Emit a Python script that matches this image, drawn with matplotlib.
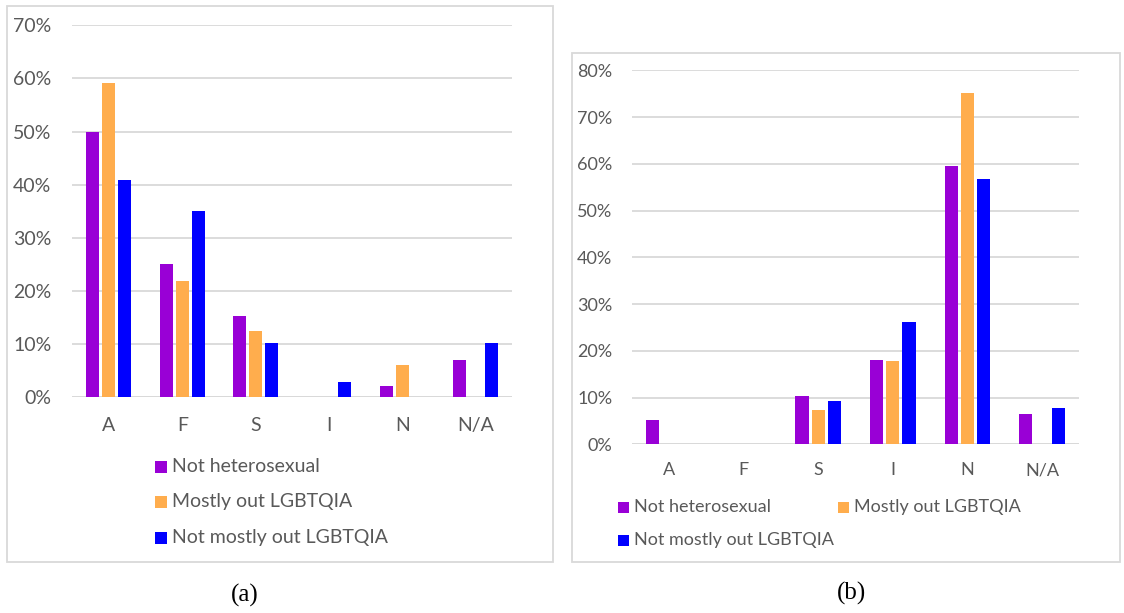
import numpy as np
import matplotlib
matplotlib.use('Agg')
import matplotlib.pyplot as plt
from matplotlib.patches import Rectangle
from matplotlib.ticker import PercentFormatter

# Dane (w procentach)
categories = ['A', 'F', 'S', 'I', 'N', 'N/A']
series = ['Not heterosexual', 'Mostly out LGBTQIA', 'Not mostly out LGBTQIA']
colors = ['#9900d6', '#ffad4d', '#0000ff']

# panel (a)
a_not_het = [50.0, 25.0, 15.3, 0.0, 2.2, 7.1]
a_mostly_out = [59.1, 21.8, 12.4, 0.0, 6.0, 0.0]
a_not_mostly_out = [40.9, 35.1, 10.2, 2.9, 0.0, 10.2]

# panel (b)
b_not_het = [5.2, 0.0, 10.3, 18.1, 59.6, 6.4]
b_mostly_out = [0.0, 0.0, 7.3, 17.8, 75.1, 0.0]
b_not_mostly_out = [0.0, 0.0, 9.3, 26.2, 56.8, 7.7]

W, H = 1124, 613
fig = plt.figure(figsize=(W / 100, H / 100), dpi=100)
plt.rcParams['font.family'] = ['Lato', 'DejaVu Sans']

GRAY = '#595959'
GRID = '#d9d9d9'


def px_rect(x0, y0, x1, y1):
    # prostokąt w pikselach (od góry) -> ułamki figury
    return [x0 / W, 1 - y1 / H, (x1 - x0) / W, (y1 - y0) / H]


def panel(rect, data, ymax, fs, xpad, ypad):
    ax = fig.add_axes(rect)
    x = np.arange(len(categories))
    step, width = 0.218, 0.177
    for k, vals in enumerate(data):
        ax.bar(x + (k - 1) * step, vals, width=width, color=colors[k], zorder=3)
    ax.set_xlim(-0.5, len(categories) - 0.5)
    ax.set_ylim(0, ymax)
    ax.set_yticks(np.arange(0, ymax + 1, 10))
    ax.yaxis.set_major_formatter(PercentFormatter(decimals=0))
    ax.set_xticks(x)
    ax.set_xticklabels(categories)
    ax.grid(axis='y', color=GRID, linewidth=1.3, zorder=0)
    for s in ax.spines.values():
        s.set_visible(False)
    ax.axhline(0, color=GRID, linewidth=1.3, zorder=2)
    ax.tick_params(length=0, labelsize=fs, labelcolor=GRAY)
    ax.tick_params(axis='x', pad=xpad)
    ax.tick_params(axis='y', pad=ypad)
    return ax


panel(px_rect(72.3, 25.3, 512.3, 397.3),
      [a_not_het, a_mostly_out, a_not_mostly_out], 70, 14, 14, 15)
panel(px_rect(631.7, 70.3, 1079.3, 444.3),
      [b_not_het, b_mostly_out, b_not_mostly_out], 80, 13, 13, 14)

# ramki paneli
for (x0, y0, x1, y1) in [(7, 6, 553, 562), (572, 53, 1120, 562)]:
    r = px_rect(x0, y0, x1, y1)
    fig.patches.append(Rectangle((r[0], r[1]), r[2], r[3], transform=fig.transFigure,
                                 fill=False, edgecolor=GRID, linewidth=1.3))


def legend_item(xm, ym, label, color, fs, size=12):
    r = px_rect(xm, ym - size / 2, xm + size, ym + size / 2)
    fig.patches.append(Rectangle((r[0], r[1]), r[2], r[3], transform=fig.transFigure,
                                 facecolor=color, edgecolor='none'))
    fig.text((xm + size + 5) / W, 1 - ym / H, label, fontsize=fs, color=GRAY, va='center')


# legenda (a)
for k, ym in enumerate([466.7, 501.7, 538.0]):
    legend_item(155, ym, series[k], colors[k], 14)

# legenda (b)
legend_item(618.3, 507.3, series[0], colors[0], 13, 11)
legend_item(837.7, 507.3, series[1], colors[1], 13, 11)
legend_item(618.3, 540.0, series[2], colors[2], 13, 11)

# podpisy
fig.text(245 / W, 1 - 595 / H, '(a)', fontsize=18, family='Liberation Serif',
         ha='center', va='center')
fig.text(852 / W, 1 - 593 / H, '(b)', fontsize=18, family='Liberation Serif',
         ha='center', va='center')

fig.savefig('out.png', dpi=100)
